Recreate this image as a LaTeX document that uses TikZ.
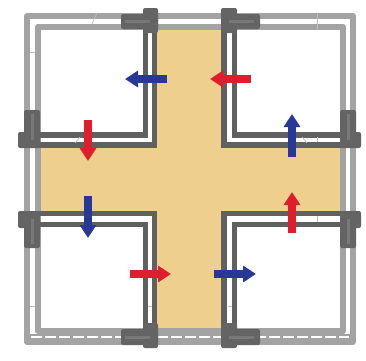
\documentclass[tikz,border=0pt]{standalone}
\usetikzlibrary{arrows.meta}
\definecolor{FloorTan}{RGB}{238,207,142}
\definecolor{WallGrey}{RGB}{163,163,163}
\definecolor{WallDark}{RGB}{96,96,96}
\definecolor{TeeGrey}{RGB}{100,100,100}
\definecolor{TeeLight}{RGB}{120,120,120}
\definecolor{FlowRed}{RGB}{222,30,45}
\definecolor{FlowBlue}{RGB}{40,56,150}
\tikzset{
  wallgrey/.style={draw=WallGrey, line width=6pt, line join=round},
  walldark/.style={draw=WallDark, line width=5.5pt, line join=miter},
  teepart/.style={fill=TeeGrey, rounded corners=2pt},
  teemark/.style={draw=TeeLight, line width=3pt},
  tickmark/.style={draw=WallGrey!70, line width=0.7pt},
  flowarrow/.style={line width=8pt, -{Triangle[width=16pt,length=13pt]}},
}
\begin{document}
\begin{tikzpicture}[x=1pt,y=-1pt]
  \useasboundingbox (0,0) rectangle (366,360);
  % Floor cross
  \fill[FloorTan] (157,27) -- (221,27) -- (221,148) -- (342,148) -- (342,211) -- (221,211)
    -- (221,330) -- (157,330) -- (157,211) -- (40,211) -- (40,148) -- (157,148) -- cycle;
  % Bottom channel is grey with white dashes
  \draw[WallGrey, line width=6pt] (30,337) -- (350,337);
  \draw[white, line width=2.2pt, dash pattern=on 11pt off 3pt] (31,337) -- (349,337);
  % Double frame, light grey
  \draw[wallgrey] (27,16) rectangle (353,342);
  \draw[wallgrey] (38,27) rectangle (343,331);
  % Dark walls, top left room
  \draw[walldark] (27,145) -- (154.5,145) -- (154.5,16);
  \draw[walldark] (38,135) -- (145.5,135) -- (145.5,27);
  % Dark walls, top right room
  \draw[walldark] (224,16) -- (224,145) -- (353,145);
  \draw[walldark] (234.5,27) -- (234.5,135) -- (343,135);
  % Dark walls, bottom right room
  \draw[walldark] (224,342) -- (224,213.5) -- (353,213.5);
  \draw[walldark] (234.5,331) -- (234.5,224.5) -- (343,224.5);
  % Dark walls, bottom left room
  \draw[walldark] (27,213.5) -- (154.5,213.5) -- (154.5,342);
  \draw[walldark] (38,224.5) -- (145.5,224.5) -- (145.5,331);
  % Small ticks across the channels
  \draw[tickmark] (97,13) -- (92,24);
  \draw[tickmark] (30,52) -- (35,52);
  \draw[tickmark] (80,137) -- (75,143);
  \draw[tickmark] (317,13) -- (317,30);
  \draw[tickmark] (302,137) -- (307,143);
  \draw[tickmark] (317,137) -- (317,142);
  \draw[tickmark] (317,216) -- (317,222);
  \draw[tickmark] (228,306) -- (232,306);
  \draw[tickmark] (30,306) -- (35,306);
  \draw[tickmark] (148,306) -- (152,306);
  % Tee fittings, top side
  \fill[teepart] (121,14) rectangle (158,29);
  \fill[teepart] (143,8) rectangle (158,33);
  \draw[teemark] (125,21.5) -- (150,21.5);
  \fill[teepart] (221,14) rectangle (260,29);
  \fill[teepart] (221,8) rectangle (237,33);
  \draw[teemark] (254,21.5) -- (229,21.5);
  % Tee fittings, left side
  \fill[teepart] (24,110) rectangle (40,147);
  \fill[teepart] (18,132) rectangle (40,148);
  \draw[teemark] (32,114) -- (32,140);
  \fill[teepart] (24,211) rectangle (40,248);
  \fill[teepart] (18,211) rectangle (40,228);
  \draw[teemark] (32,244) -- (32,219);
  % Tee fittings, right side
  \fill[teepart] (340,110) rectangle (356,147);
  \fill[teepart] (340,132) rectangle (361,148);
  \draw[teemark] (348,114) -- (348,140);
  \fill[teepart] (340,211) rectangle (356,248);
  \fill[teepart] (340,211) rectangle (361,228);
  \draw[teemark] (348,244) -- (348,219);
  % Tee fittings, bottom side
  \fill[teepart] (121,329) rectangle (158,345);
  \fill[teepart] (143,323) rectangle (158,348);
  \draw[teemark] (125,337) -- (150,337);
  \fill[teepart] (221,329) rectangle (260,345);
  \fill[teepart] (221,323) rectangle (237,348);
  \draw[teemark] (254,337) -- (229,337);
  % Flow arrows
  \draw[flowarrow, FlowBlue] (167,79) -- (125,79);
  \draw[flowarrow, FlowRed] (88,120) -- (88,161);
  \draw[flowarrow, FlowRed] (251,79) -- (210,79);
  \draw[flowarrow, FlowBlue] (292,157) -- (292,114);
  \draw[flowarrow, FlowBlue] (88,196) -- (88,238);
  \draw[flowarrow, FlowRed] (130,274) -- (171,274);
  \draw[flowarrow, FlowBlue] (214,274) -- (256,274);
  \draw[flowarrow, FlowRed] (292,233) -- (292,192);
\end{tikzpicture}
\end{document}
